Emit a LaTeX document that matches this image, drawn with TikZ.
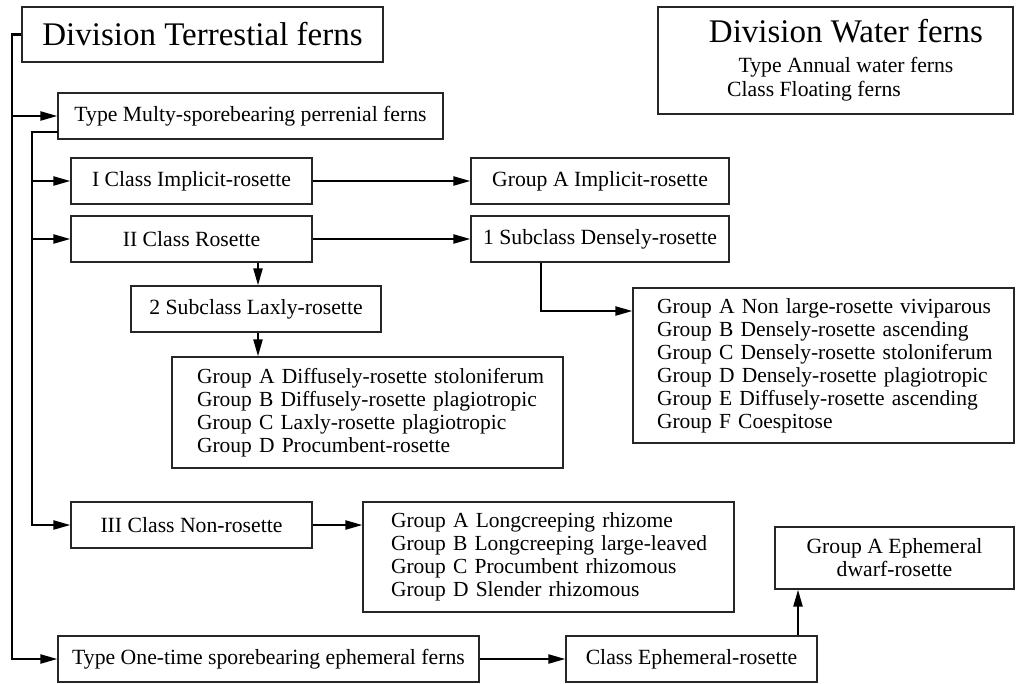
\documentclass[tikz,border=0pt]{standalone}
\usepackage{fontspec}
\setmainfont{Liberation Serif}
\usetikzlibrary{arrows.meta,calc}
\tikzset{
  box/.style={draw=black!85, line width=1.2pt, inner sep=0pt, font=\fontsize{21.7}{23}\selectfont, align=center},
  bigbox/.style={box, font=\fontsize{33}{35}\selectfont},
  listbox/.style={draw=black!85, line width=1.2pt, inner ysep=0pt, align=left, font=\fontsize{21.5}{23}\selectfont},
  plain/.style={inner sep=0pt, font=\fontsize{21.7}{23}\selectfont},
  conn/.style={line width=2.2pt, -{Triangle[length=17pt,width=9pt]}}
}
\begin{document}
\begin{tikzpicture}[x=1pt,y=-1pt]
\useasboundingbox (0,0) rectangle (1016,683);
% boxes
\node[bigbox, minimum width=361pt, minimum height=55pt] (div) at (202.5,34.5) {Division Terrestial ferns};
\node[box, minimum width=355pt, minimum height=107pt] (water) at (835.5,60.5) {};
\node[inner sep=0pt, anchor=base, font=\fontsize{33}{35}\selectfont] (wt1) at (846,42) {Division Water ferns};
\node[plain, anchor=base] (wt2) at (846,72) {Type Annual water ferns};
\node[plain, anchor=base west] (wt3) at (727,96) {Class Floating ferns};
\node[box, minimum width=385pt, minimum height=46pt] (multy) at (250.5,116) {Type Multy-sporebearing perrenial ferns};
\node[box, minimum width=241pt, minimum height=46pt] (c1) at (191.5,181) {I Class Implicit-rosette};
\node[box, minimum width=258pt, minimum height=46pt] (gA1) at (600,181) {Group A Implicit-rosette};
\node[box, minimum width=241pt, minimum height=46pt] (c2) at (191.5,239) {II Class Rosette};
\node[box, minimum width=258pt, minimum height=46pt] (sub1) at (600,239) {1 Subclass Densely-rosette};
\node[box, minimum width=250pt, minimum height=46pt] (sub2) at (256,309) {2 Subclass Laxly-rosette};
\node[listbox, inner xsep=25pt, text width=341pt, minimum height=111pt] (grpLax) at (367.5,412.5)
  {\mbox{Group A Diffusely-rosette stoloniferum}\\\mbox{Group B Diffusely-rosette plagiotropic}\\\mbox{Group C Laxly-rosette plagiotropic}\\\mbox{Group D Procumbent-rosette}};
\node[listbox, inner xsep=24pt, text width=333pt, minimum height=155pt] (grpDense) at (823.5,365.5)
  {\mbox{Group A Non large-rosette viviparous}\\\mbox{Group B Densely-rosette ascending}\\\mbox{Group C Densely-rosette stoloniferum}\\\mbox{Group D Densely-rosette plagiotropic}\\\mbox{Group E Diffusely-rosette ascending}\\\mbox{Group F Coespitose}};
\node[box, minimum width=241pt, minimum height=46pt] (c3) at (191.5,525) {III Class Non-rosette};
\node[listbox, inner xsep=28pt, text width=315pt, minimum height=110pt] (grpNon) at (548.5,557)
  {\mbox{Group A Longcreeping rhizome}\\\mbox{Group B Longcreeping large-leaved}\\\mbox{Group C Procumbent rhizomous}\\\mbox{Group D Slender rhizomous}};
\node[box, minimum width=421pt, minimum height=46pt] (oneT) at (268.5,659) {Type One-time sporebearing ephemeral ferns};
\node[box, minimum width=251pt, minimum height=46pt] (clsE) at (691.5,659) {Class Ephemeral-rosette};
\node[box, minimum width=239pt, minimum height=62pt] (gEph) at (894.5,558) {Group A Ephemeral\\dwarf-rosette};
% helper coordinates
\coordinate (m1) at (12,34.5);
\coordinate (s0) at (58,132);
\coordinate (s1) at (32,132);
\coordinate (d1) at (541,311);
\coordinate (e1) at (798,0);
\coordinate (v1) at (258,0);
% connectors
\draw[conn] (div.west) -- (m1) |- (oneT.west);
\draw[conn] (m1 |- multy.west) -- (multy.west);
\draw[conn] (s0) -- (s1) |- (c3.west);
\draw[conn] (s1 |- c1.west) -- (c1.west);
\draw[conn] (s1 |- c2.west) -- (c2.west);
\draw[conn] (c1.east) -- (gA1.west);
\draw[conn] (c2.east) -- (sub1.west);
\draw[conn] (c2.south -| v1) -- (sub2.north -| v1);
\draw[conn] (sub2.south -| v1) -- (grpLax.north -| v1);
\draw[conn] (sub1.south -| d1) -- (d1) -- (grpDense.west |- d1);
\draw[conn] (c3.east) -- (c3.east -| grpNon.west);
\draw[conn] (oneT.east) -- (clsE.west);
\draw[conn] (clsE.north -| e1) -- (gEph.south -| e1);
\end{tikzpicture}
\end{document}
